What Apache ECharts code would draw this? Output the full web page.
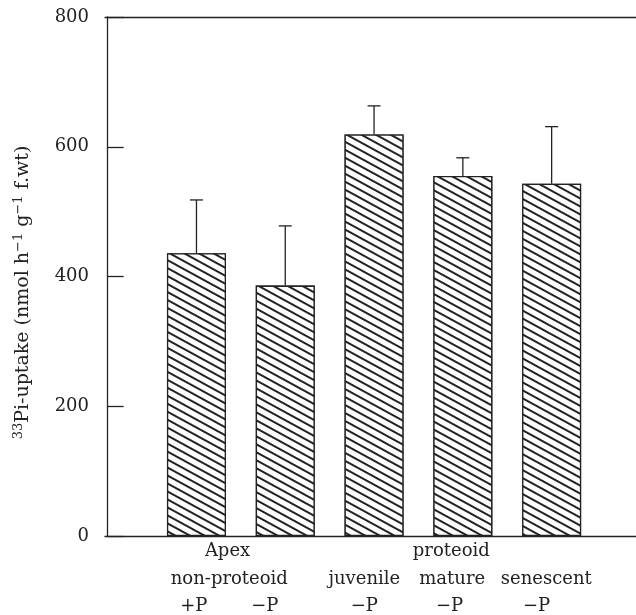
<!DOCTYPE html>
<html>
<head>
<meta charset="utf-8">
<script type="text/javascript" src="https://cdn.jsdelivr.net/npm/echarts@6/dist/echarts.min.js"></script>
<title>33Pi uptake</title>
</head>
<body style="margin:0">
<div id="container" style="width:636px;height:615px;"></div>
<script type="text/javascript">
// data
var barPos = [1, 2, 3, 4, 5];
var uptake = [436, 386, 619, 555, 543];
var errorTop = [518, 478, 663, 583, 631];

// x-axis text, three rows: [text, position in axis units]
var groupRow = [['Apex', 1.35], ['proteoid', 3.87]];
var typeRow = [['non-proteoid', 1.37], ['juvenile', 2.89], ['mature', 3.88], ['senescent', 4.94]];
var treatRow = [['+P', 0.97], ['\u2212P', 1.77], ['\u2212P', 2.89], ['\u2212P', 3.85], ['\u2212P', 4.83]];
var rowY = [551, 579, 606];

var ink = '#222';
var font = 'DejaVu Serif';

var myChart = echarts.init(document.getElementById('container'));

var option = {
    animation: false,
    grid: { left: 105, right: 0, top: 17, bottom: 79 },
    xAxis: [{
        type: 'value', min: -0.03, max: 5.95,
        axisLine: { show: true, lineStyle: { color: ink, width: 1.3 } },
        axisTick: { show: false }, axisLabel: { show: false }, splitLine: { show: false }
    }, {
        type: 'value', position: 'top', min: -0.03, max: 5.95,
        axisLine: { show: true, lineStyle: { color: ink, width: 1.3 } },
        axisTick: { show: false }, axisLabel: { show: false }, splitLine: { show: false }
    }],
    yAxis: {
        type: 'value', min: 0, max: 800, interval: 200,
        name: '{sup|33}Pi-uptake (nmol h{sup|\u22121} g{sup|\u22121} f.wt)',
        nameLocation: 'middle',
        nameGap: 71,
        nameTextStyle: {
            fontFamily: font, fontSize: 19, color: ink,
            padding: [0, 32, 0, 0],
            rich: {
                sup: { fontFamily: font, fontSize: 13, color: ink, verticalAlign: 'top', padding: [0, 0, 9, 0] }
            }
        },
        axisLine: { show: true, lineStyle: { color: ink, width: 1.3 } },
        axisTick: { show: true, inside: true, length: 16, lineStyle: { color: ink, width: 1.3 } },
        axisLabel: { fontFamily: font, fontSize: 18, color: ink, margin: 16 },
        splitLine: { show: false }
    },
    series: [{
        type: 'bar',
        barWidth: 59,
        data: barPos.map(function (x, i) { return [x, uptake[i]]; }),
        itemStyle: {
            color: '#fff',
            borderColor: ink,
            borderWidth: 1.3,
            decal: {
                symbol: 'rect',
                symbolSize: 1,
                dashArrayX: [1, 0],
                dashArrayY: [1.2, 5],
                rotation: 0.5,
                color: ink,
                backgroundColor: '#fff'
            }
        }
    }, {
        // error bars, upper side only
        type: 'custom',
        data: barPos.map(function (x, i) { return [x, uptake[i], errorTop[i]]; }),
        renderItem: function (params, api) {
            var base = api.coord([api.value(0), api.value(1)]);
            var top = api.coord([api.value(0), api.value(2)]);
            var st = { stroke: ink, lineWidth: 1.3 };
            return {
                type: 'group',
                children: [
                    { type: 'line', shape: { x1: base[0], y1: base[1], x2: top[0], y2: top[1] }, style: st },
                    { type: 'line', shape: { x1: top[0] - 6.5, y1: top[1], x2: top[0] + 6.5, y2: top[1] }, style: st }
                ]
            };
        },
        z: 3
    }]
};

myChart.setOption(option);

// category text under the axis
var texts = [];
[groupRow, typeRow, treatRow].forEach(function (row, r) {
    row.forEach(function (item) {
        texts.push({
            type: 'text',
            x: myChart.convertToPixel({ xAxisIndex: 0 }, item[1]),
            y: rowY[r],
            style: {
                text: item[0], fontFamily: font, fontSize: 18, fill: ink,
                align: 'center', verticalAlign: 'middle'
            }
        });
    });
});
myChart.setOption({ graphic: texts });
</script>
</body>
</html>
